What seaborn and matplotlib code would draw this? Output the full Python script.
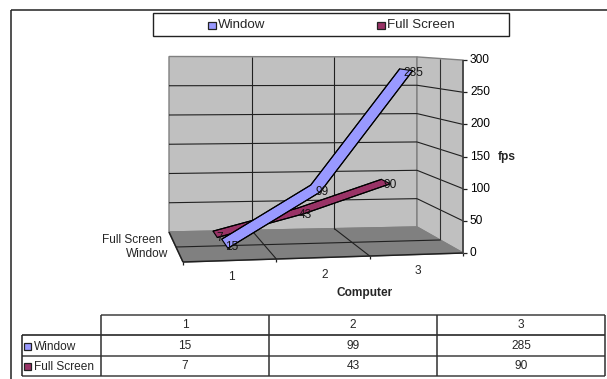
import numpy as np
import pandas as pd
import matplotlib
matplotlib.use("Agg")
import matplotlib.pyplot as plt
import seaborn as sns

computers = ["1", "2", "3"]
window_fps = [15, 99, 285]
full_fps = [7, 43, 90]
series_names = ["Window", "Full Screen"]
y_ticks = [0, 50, 100, 150, 200, 250, 300]

WIN_C, FULL_C = "#9999FF", "#993366"
WALL, FLOOR, EDGE = "#C0C0C0", "#808080", "#808080"

sns.set_style("white")
plt.rcParams["font.family"] = ["Liberation Sans", "DejaVu Sans"]
FS = 8.6

fig = plt.figure(figsize=(6.07, 3.79), dpi=100)
ax = fig.add_axes([0, 0, 1, 1])
ax.set_xlim(0, 607)
ax.set_ylim(379, 0)
ax.axis("off")


def proj(u, d, v):
    """u: category axis 0..3, d: depth 0 (front)..1 (back), v: fps -> canvas."""
    u, v = np.asarray(u, float), np.asarray(v, float)
    fx, fy = 183 + (463 - 183) * u / 3, 262 + (253 - 262) * u / 3
    bx, by = 169 + (417 - 169) * u / 3, 232 + (227 - 232) * u / 3
    s_back = 0.585 - 0.018 * u / 3
    s = 0.643 + (s_back - 0.643) * d
    return fx + (bx - fx) * d, fy + (by - fy) * d - s * v


def seg(x, y, c="black", lw=0.9, z=2):
    ax.plot(x, y, color=c, lw=lw, zorder=z, solid_capstyle="butt")


# outer frame
seg([11, 11], [10, 379], "#222222", 1.1)
seg([11, 607], [10, 10], "#222222", 1.1)

# walls and floor
pts = lambda *p: list(zip(*[proj(*q) for q in p]))
ax.fill(*pts((0, 1, 0), (3, 1, 0), (3, 1, 300), (0, 1, 300)), fc=WALL, ec=EDGE, lw=1, zorder=1)
ax.fill(*pts((3, 1, 0), (3, 0, 0), (3, 0, 300), (3, 1, 300)), fc=WALL, ec=EDGE, lw=1, zorder=1)
ax.fill(*pts((0, 1, 0), (3, 1, 0), (3, 0, 0), (0, 0, 0)), fc=FLOOR, ec=EDGE, lw=1, zorder=1)

# grid
for t in y_ticks[1:-1]:
    seg(*pts((0, 1, t), (3, 1, t)), "#202020", 0.8)
    seg(*pts((3, 1, t), (3, 0, t)), "#202020", 0.8)
for u in (1, 2):
    seg(*pts((u, 1, 0), (u, 1, 300)), "#202020", 0.8)
    seg(*pts((u, 1, 0), (u, 0, 0)), "#202020", 0.8)
seg(*pts((3, .5, 0), (3, .5, 300)), "#303030", 0.8)
seg(*pts((0, .5, 0), (3, .5, 0)), "#202020", 0.8)
seg(*pts((0, 1, 0), (0, 0, 0)), "#202020", 1.1)
seg(*pts((0, 0, 0), (3, 0, 0)), "#202020", 1.1)
seg(*pts((3, 0, 0), (3, 0, 300)), "#404040", 1.2)

# axis ticks and labels
for t in y_ticks:
    x, y = proj(3, 0, t)
    seg([x, x + 4], [y, y], "#202020", 0.9)
    ax.text(x + 7, y, str(t), fontsize=FS, ha="left", va="center", color="black")
for u in (0, 1, 2, 3):
    x, y = proj(u, 0, 0)
    seg([x, x], [y, y + 3], "#202020", 0.9)
for i, c in enumerate(computers):
    x, y = proj(i + .5, 0, 0)
    ax.text(x + 2, y + 17, c, fontsize=FS, ha="center", va="center")
ax.text(507, 157, "fps", fontsize=FS, fontweight="bold", ha="center", va="center")
ax.text(365, 293, "Computer", fontsize=FS, fontweight="bold", ha="center", va="center")
ax.text(162, 240, series_names[1], fontsize=FS, ha="right", va="center")
ax.text(168, 254, series_names[0], fontsize=FS, ha="right", va="center")


# ribbons
def ribbon(vals, d, hw, color, z):
    us = np.arange(len(vals)) + .5
    xf, yf = proj(us, d - hw, vals)
    xb, yb = proj(us, d + hw, vals)
    ax.fill(np.r_[xf, xb[::-1]], np.r_[yf, yb[::-1]], fc=color, ec="black", lw=0.8, zorder=z)
    df = pd.DataFrame({"x": np.r_[xf, xb], "y": np.r_[yf, yb], "edge": ["f"] * len(us) + ["b"] * len(us)})
    sns.lineplot(data=df, x="x", y="y", units="edge", estimator=None, sort=False,
                 color="black", lw=0.8, ax=ax, legend=False, zorder=z + .1)


ribbon(full_fps, .75, .11, FULL_C, 4)
ribbon(window_fps, .25, .16, WIN_C, 5)

for vals, d, dx, dy in ((full_fps, .75, 4.5, 3.5), (window_fps, .25, 7, 3)):
    for i, v in enumerate(vals):
        x, y = proj(i + .5, d, v)
        ax.text(x + dx, y + dy, str(v), fontsize=FS, ha="center", va="center", color="#151515", zorder=7)

# legend
ax.add_patch(plt.Rectangle((153, 13), 356, 23, fc="white", ec="#222222", lw=1, zorder=3))
for name, col, x in ((series_names[0], WIN_C, 208), (series_names[1], FULL_C, 377)):
    ax.add_patch(plt.Rectangle((x, 21.5), 7.5, 7.5, fc=col, ec="#222222", lw=0.9, zorder=4))
    ax.text(x + 10, 25.5, name, fontsize=9.6, ha="left", va="center", zorder=4)

# data table
col_x = [101, 269, 437, 605]
row_y = [315, 335, 355.5, 376]
seg([101, 605], [row_y[0], row_y[0]], "#404040", 1.1)
seg([21.5, 605], [row_y[1], row_y[1]], "#151515", 1.1)
seg([21.5, 605], [row_y[2], row_y[2]], "#404040", 1.1)
seg([21.5, 605], [row_y[3], row_y[3]], "#404040", 1.1)
seg([21.5, 21.5], [row_y[1], row_y[3]], "#202020", 1.1)
for x in col_x:
    seg([x, x], [row_y[0], row_y[3]], "#303030", 1.1)
for i, c in enumerate(computers):
    cx = (col_x[i] + col_x[i + 1]) / 2
    ax.text(cx, 325.5, c, fontsize=FS, ha="center", va="center")
    ax.text(cx, 346, str(window_fps[i]), fontsize=FS, ha="center", va="center")
    ax.text(cx, 366, str(full_fps[i]), fontsize=FS, ha="center", va="center")
for name, col, y in ((series_names[0], WIN_C, 346.5), (series_names[1], FULL_C, 366.5)):
    ax.add_patch(plt.Rectangle((24, y - 3.5), 7, 7, fc=col, ec="#222222", lw=0.9, zorder=4))
    ax.text(34, y, name, fontsize=FS, ha="left", va="center")

ax.set_xlim(0, 607)
ax.set_ylim(379, 0)
ax.set_xlabel("")
ax.set_ylabel("")
fig.savefig("out.png", dpi=100, facecolor="white")
